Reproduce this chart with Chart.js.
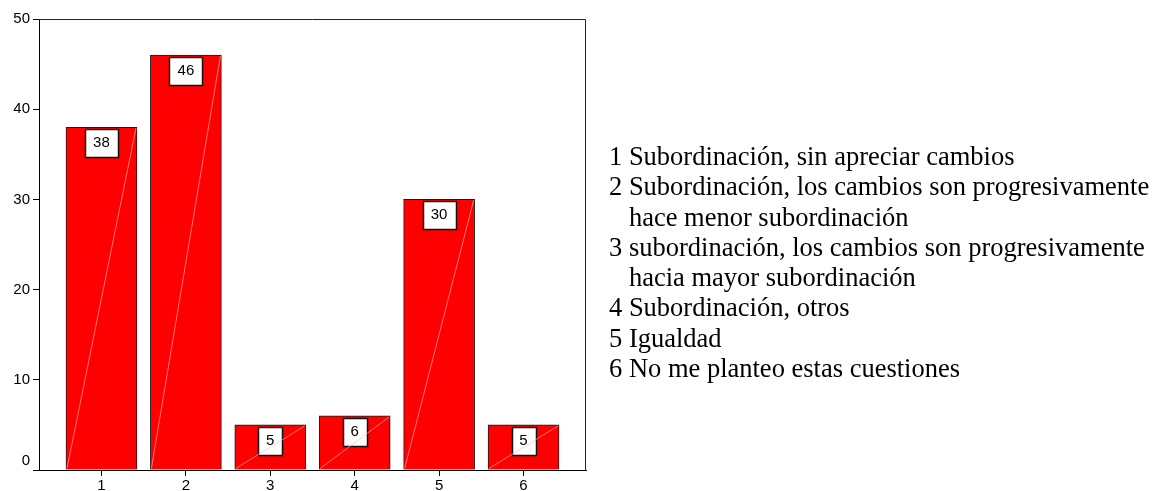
<!DOCTYPE html>
<html><head><meta charset="utf-8">
<script src="https://cdn.jsdelivr.net/npm/chart.js@4/dist/chart.umd.min.js"></script>
<style>
html,body{margin:0;padding:0;background:#fff;}
#wrap{position:relative;width:1160px;height:491px;overflow:hidden;}
#c{position:absolute;left:0;top:0;}
#legend{position:absolute;left:609px;top:141px;font-family:'Liberation Serif','Times New Roman',serif;font-size:26.5px;line-height:30.3px;color:#000;white-space:pre;}
#legend div{padding-left:0.75em;text-indent:-0.75em;}
</style></head><body>
<div id="wrap"><canvas id="c" width="1160" height="491"></canvas><div id="legend"></div></div>
<script>
const categories = [1, 2, 3, 4, 5, 6];
const values = [38, 46, 5, 6, 30, 5];
const yTicks = [0, 10, 20, 30, 40, 50];
const legendLabels = [
  'Subordinación, sin apreciar cambios',
  'Subordinación, los cambios son progresivamente\nhace menor subordinación',
  'subordinación, los cambios son progresivamente\nhacia mayor subordinación',
  'Subordinación, otros',
  'Igualdad',
  'No me planteo estas cuestiones'
];

const legendEl = document.getElementById('legend');
legendLabels.forEach((t, i) => {
  const d = document.createElement('div');
  d.textContent = categories[i] + ' ' + t;
  legendEl.appendChild(d);
});

const SANS = "'Liberation Sans', Arial, sans-serif";

const frame = {
  id: 'frame',
  afterDraw(chart) {
    const a = chart.chartArea, ctx = chart.ctx;
    ctx.save();
    ctx.strokeStyle = '#222';
    ctx.lineWidth = 1;
    ctx.beginPath();
    ctx.moveTo(a.left, Math.round(a.top) + 0.5);
    ctx.lineTo(Math.round(a.right) - 0.5, Math.round(a.top) + 0.5);
    ctx.lineTo(Math.round(a.right) - 0.5, a.bottom);
    ctx.stroke();
    ctx.restore();
  }
};

const barDecor = {
  id: 'barDecor',
  afterDatasetsDraw(chart) {
    const ctx = chart.ctx;
    const meta = chart.getDatasetMeta(0);
    ctx.save();
    ctx.font = '15px ' + SANS;
    meta.data.forEach((bar, i) => {
      const left = bar.x - bar.width / 2, right = bar.x + bar.width / 2;
      const txt = String(values[i]);
      const w = Math.round(ctx.measureText(txt).width + 16);
      const h = 28;
      const bx = Math.round(bar.x - w / 2) + 0.5;
      const by = Math.round(bar.y + 2) + 0.5;
      ctx.fillStyle = '#fff';
      ctx.fillRect(bx, by, w, h);
      ctx.strokeStyle = '#111';
      ctx.lineWidth = 1.5;
      ctx.strokeRect(bx, by, w, h);
      ctx.strokeStyle = 'rgba(255,185,185,0.8)';
      ctx.lineWidth = 0.8;
      ctx.beginPath();
      ctx.moveTo(left + 1, bar.base - 1);
      ctx.lineTo(right - 1, bar.y + 1);
      ctx.stroke();
      ctx.fillStyle = '#000';
      ctx.textAlign = 'center';
      ctx.textBaseline = 'alphabetic';
      ctx.fillText(txt, bar.x, by + 17);
    });
    ctx.restore();
  }
};

new Chart(document.getElementById('c'), {
  type: 'bar',
  data: {
    datasets: [{
      data: categories.map((c, i) => ({ x: c, y: values[i] })),
      backgroundColor: '#ff0000',
      borderColor: '#1a1a1a',
      borderWidth: 1,
      barThickness: 71
    }]
  },
  options: {
    responsive: false,
    animation: false,
    devicePixelRatio: 1,
    layout: { padding: { left: 0, top: 19, right: 574, bottom: 0 } },
    plugins: { legend: { display: false }, tooltip: { enabled: false } },
    scales: {
      x: {
        type: 'linear',
        min: 0.26,
        max: 6.74,
        offset: false,
        afterBuildTicks: s => { s.ticks = categories.map(v => ({ value: v })); },
        afterFit: s => { s.height = 20; },
        grid: { display: true, offset: false, drawOnChartArea: false, drawTicks: true, tickLength: 6, color: '#000' },
        border: { display: true, color: '#000', width: 1 },
        ticks: { color: '#000', padding: 1, font: { family: SANS, size: 15 }, maxRotation: 0, autoSkip: false }
      },
      y: {
        min: 0,
        max: 50,
        afterBuildTicks: s => { s.ticks = yTicks.map(v => ({ value: v })); },
        afterFit: s => { s.width = 39; },
        grid: { display: true, drawOnChartArea: false, drawTicks: true, tickLength: 6, color: '#000' },
        border: { display: true, color: '#000', width: 1 },
        ticks: {
          color: '#000', padding: 3, font: { family: SANS, size: 15 },
          callback: v => (v === 0 ? ['0', ''] : String(v))
        }
      }
    }
  },
  plugins: [frame, barDecor]
});
</script>
</body></html>
